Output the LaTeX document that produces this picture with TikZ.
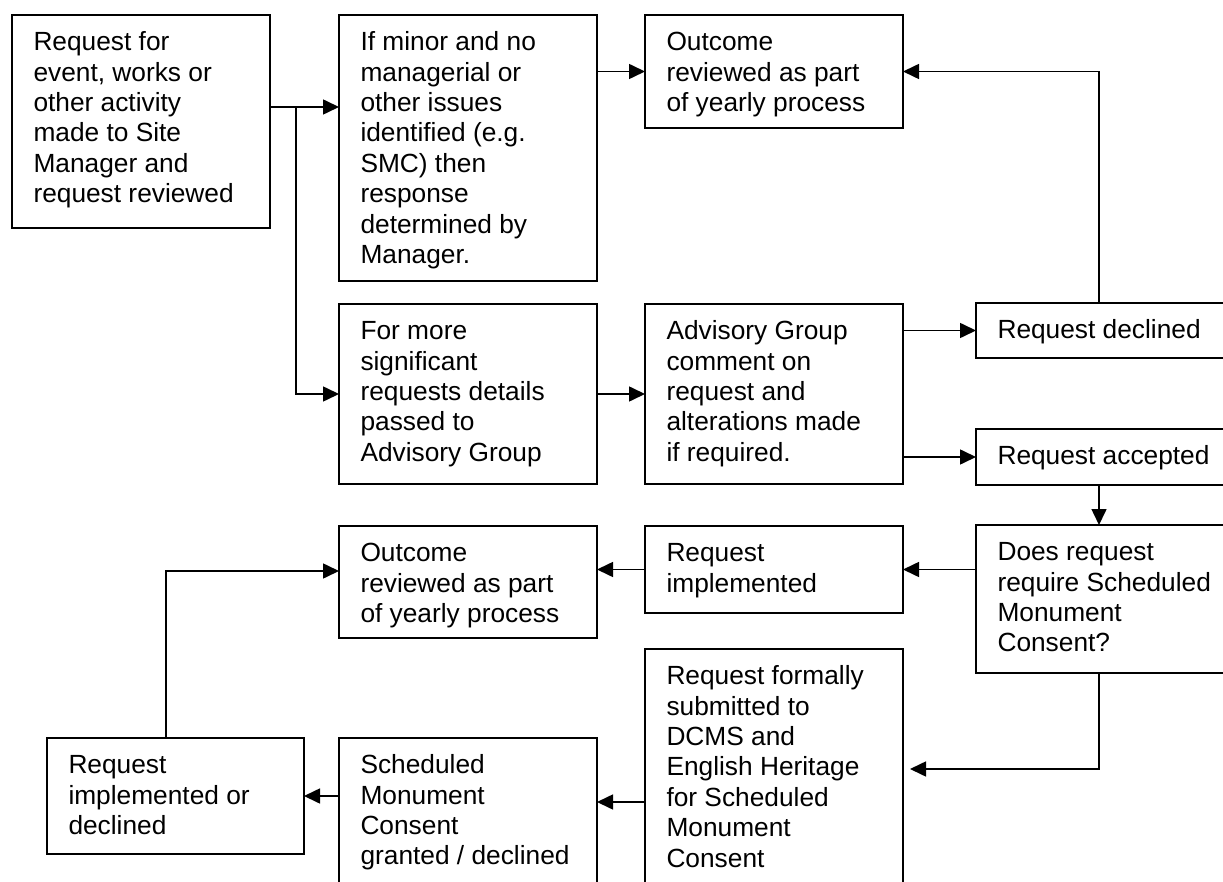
\documentclass[tikz,border=0pt]{standalone}
\usepackage{fontspec}
\setmainfont{Liberation Sans}
\usetikzlibrary{arrows.meta,calc}
\begin{document}
\begin{tikzpicture}[x=1pt,y=-1pt,
  box/.style={draw,line width=1.8pt,inner sep=0pt,outer sep=0pt,anchor=north west},
  txt/.style={anchor=north west,inner sep=0pt,outer sep=0pt,align=left,font=\fontsize{26.3}{30.4}\selectfont},
  arr/.style={line width=1.6pt,-{Triangle[length=16pt,width=15pt]}}]
\useasboundingbox (0,0) rectangle (1223,882);
\clip (0,0) rectangle (1223,882);
% boxes
\node[box,minimum width=258pt,minimum height=213pt] (A) at (12,15) {};
\node[box,minimum width=258pt,minimum height=266pt] (B) at (339,15) {};
\node[box,minimum width=258pt,minimum height=113pt] (C) at (645,15) {};
\node[box,minimum width=262pt,minimum height=55pt] (Dec) at (976,303) {};
\node[box,minimum width=258pt,minimum height=180pt] (D) at (339,304) {};
\node[box,minimum width=258pt,minimum height=180pt] (E) at (645,304) {};
\node[box,minimum width=262pt,minimum height=56pt] (Acc) at (976,429) {};
\node[box,minimum width=262pt,minimum height=148pt] (Does) at (976,525) {};
\node[box,minimum width=258pt,minimum height=87pt] (Impl) at (645,526) {};
\node[box,minimum width=258pt,minimum height=112pt] (Out2) at (339,526) {};
\node[box,minimum width=258pt,minimum height=260pt] (FS) at (645,649) {};
\node[box,minimum width=257pt,minimum height=116pt] (RID) at (47,738) {};
\node[box,minimum width=258pt,minimum height=170pt] (SMC) at (339,738) {};
% texts
\node[txt] (At) at ([xshift=21.5pt,yshift=-14.5pt]A.north west) {\strut Request for\\event, works or\\other activity\\made to Site\\Manager and\\request reviewed};
\node[txt] (Bt) at ([xshift=21.5pt,yshift=-14.5pt]B.north west) {\strut If minor and no\\managerial or\\other issues\\identified (e.g.\\SMC) then\\response\\determined by\\Manager.};
\node[txt] (Ct) at ([xshift=21.5pt,yshift=-14.5pt]C.north west) {\strut Outcome\\reviewed as part\\of yearly process};
\node[txt] (Dect) at ([xshift=21.5pt,yshift=-14.5pt]Dec.north west) {\strut Request declined};
\node[txt] (Dt) at ([xshift=21.5pt,yshift=-14.5pt]D.north west) {\strut For more\\significant\\requests details\\passed to\\Advisory Group};
\node[txt] (Et) at ([xshift=21.5pt,yshift=-14.5pt]E.north west) {\strut Advisory Group\\comment on\\request and\\alterations made\\if required.};
\node[txt] (Acct) at ([xshift=21.5pt,yshift=-14.5pt]Acc.north west) {\strut Request accepted};
\node[txt] (Doest) at ([xshift=21.5pt,yshift=-14.5pt]Does.north west) {\strut Does request\\require Scheduled\\Monument\\Consent?};
\node[txt] (Implt) at ([xshift=21.5pt,yshift=-14.5pt]Impl.north west) {\strut Request\\implemented};
\node[txt] (Out2t) at ([xshift=21.5pt,yshift=-14.5pt]Out2.north west) {\strut Outcome\\reviewed as part\\of yearly process};
\node[txt] (FSt) at ([xshift=21.5pt,yshift=-14.5pt]FS.north west) {\strut Request formally\\submitted to\\DCMS and\\English Heritage\\for Scheduled\\Monument\\Consent};
\node[txt] (RIDt) at ([xshift=21.5pt,yshift=-14.5pt]RID.north west) {\strut Request\\implemented or\\declined};
\node[txt] (SMCt) at ([xshift=21.5pt,yshift=-14.5pt]SMC.north west) {\strut Scheduled\\Monument\\Consent\\granted / declined};
% helper coordinates
\coordinate (j1) at (296,107);
\coordinate (k) at (1099,0);
\coordinate (m) at (166,571);
\coordinate (t1) at (1099,769);
\coordinate (y802) at (0,802);
% connectors
\draw[arr] (A.east |- j1) -- (B.west |- j1);
\draw[arr] (j1) |- (D.west);
\draw[arr] (B.east |- C.west) -- (C.west);
\draw[arr] (Dec.north -| k) |- (C.east);
\draw[arr] (D.east) -- (E.west);
\draw[arr] (E.east |- Dec.west) -- (Dec.west);
\draw[arr] (E.east |- Acc.west) -- (Acc.west);
\draw[arr] (Acc.south -| k) -- (Does.north -| k);
\draw[arr] (Does.west |- Impl.east) -- (Impl.east);
\draw[arr] (Impl.west) -- (Out2.east |- Impl.west);
\draw[arr] (RID.north -| m) |- (Out2.west |- m);
\draw[arr,shorten >=7pt] (Does.south -| k) |- (FS.east |- t1);
\draw[arr] (FS.west |- y802) -- (SMC.east |- y802);
\draw[arr] (SMC.west |- RID.east) -- (RID.east);
\end{tikzpicture}
\end{document}
